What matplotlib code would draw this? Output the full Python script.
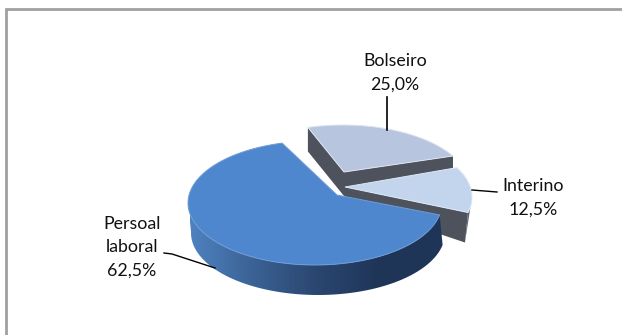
#!/usr/bin/env python
# coding: utf-8

# 3D looking exploded pie, drawn in pixel coordinates

import matplotlib
matplotlib.use("Agg")
import matplotlib.pyplot as plt
from matplotlib.patches import Polygon
from matplotlib.colors import LinearSegmentedColormap
import numpy as np

categories = ["Interino", "Bolseiro", "Persoal\nlaboral"]
values = [12.5, 25.0, 62.5]
value_labels = ["12,5%", "25,0%", "62,5%"]

plt.rcParams["font.family"] = ["Lato", "DejaVu Sans"]

W, H = 622, 335
fig = plt.figure(figsize=(W/100, H/100), dpi=100)
ax = fig.add_axes([0, 0, 1, 1])
ax.set_xlim(0, W)
ax.set_ylim(H, 0)
ax.axis("off")

# frame, only top and left survive in the crop
ax.plot([6, 6, 622], [335, 9, 9], color="#a0a0a0", lw=2, solid_joinstyle="miter")

# slice boundaries in degrees, taken from the values
angles = -22.5 + np.cumsum([0] + values) * 3.6

# per slice look: ellipse centre, apex, where the arc starts, arc stretch
# (perspective makes each slice a bit different)
A, B = 127, 62
look = [
    dict(c=(345, 197), apex=(345, 187), t0=-14.5, stretch=0.95, depth=30, top="#c3d5ed"),
    dict(c=(343, 187), apex=(344, 172), t0=30, stretch=0.845, depth=24, top="#b8c5de"),
    dict(c=(315, 203), apex=(337, 195), t0=105, stretch=1.084, depth=30, top="#4f87cf"),
]


def arc(i, n=100):
    k = look[i]
    t = k["t0"] + (np.linspace(angles[i], angles[i+1], n) - angles[i]) * k["stretch"]
    t = np.radians(t)
    return np.column_stack([k["c"][0] + A*np.cos(t), k["c"][1] - B*np.sin(t)])


grey = "#4d525c"

# Bolseiro
pts = arc(1)
ap = np.array(look[1]["apex"], float)
d = np.array([0, look[1]["depth"]])
ax.add_patch(Polygon([pts[-1], ap, ap+d, pts[-1]+d], fc=grey, ec="none"))
ax.add_patch(Polygon([pts[0], ap, ap+d, pts[0]+d], fc=grey, ec="none"))
ax.add_patch(Polygon(np.vstack([ap, pts]), fc=look[1]["top"], ec="#dfe5f0", lw=0.7))

# Interino, cut face plus the small bit of rim that shows on the right
pts = arc(0)
ap = np.array(look[0]["apex"], float)
d = np.array([-3, look[0]["depth"]])
ax.add_patch(Polygon(np.vstack([pts[:35], pts[0]+d]), fc="#5a6270", ec="none"))
ax.add_patch(Polygon([pts[0], ap, ap+np.array([0, 15]), pts[0]+d], fc=grey, ec="none"))
ax.add_patch(Polygon(np.vstack([ap, pts]), fc=look[0]["top"], ec="#dfe8f5", lw=0.7))

# Persoal laboral, outer wall with a gradient
pts = arc(2)
d = np.array([3, look[2]["depth"]])
low = pts[:, 1] > 200
wall = np.vstack([pts[low], (pts[low]+d)[::-1]])
cmap = LinearSegmentedColormap.from_list("wall", ["#4f82c0", "#3a6294", "#2a466f", "#1f3557", "#1f3557"])
grad = np.linspace(0, 1, 256).reshape(1, -1)
im = ax.imshow(grad, cmap=cmap, extent=[190, 445, 300, 200], aspect="auto", zorder=2)
clip = Polygon(wall, transform=ax.transData, fc="none", ec="none")
ax.add_patch(clip)
im.set_clip_path(clip)
ax.set_xlim(0, W)
ax.set_ylim(H, 0)
ap = np.array(look[2]["apex"], float)
ax.add_patch(Polygon(np.vstack([ap, pts]), fc=look[2]["top"], ec="#6f9bd6", lw=0.7, zorder=3))

# leader lines
ax.plot([387, 387], [97, 130], color="k", lw=1.2, zorder=4)
ax.plot([472, 497], [190, 192], color="k", lw=1.0, zorder=4)
ax.plot([164, 172, 215], [253, 254, 268], color="k", lw=1.0, zorder=4)

# labels
fs = 12.8
ls = 1.55
ax.text(533, 198, categories[0] + "\n" + value_labels[0], ha="center", va="center", fontsize=fs, linespacing=ls, color="#111111")
ax.text(395, 73, categories[1] + "\n" + value_labels[1], ha="center", va="center", fontsize=fs, linespacing=ls, color="#111111")
ax.text(132, 247, categories[2] + "\n" + value_labels[2], ha="center", va="center", fontsize=fs, linespacing=ls, color="#111111")

fig.savefig("out.png", dpi=100)
